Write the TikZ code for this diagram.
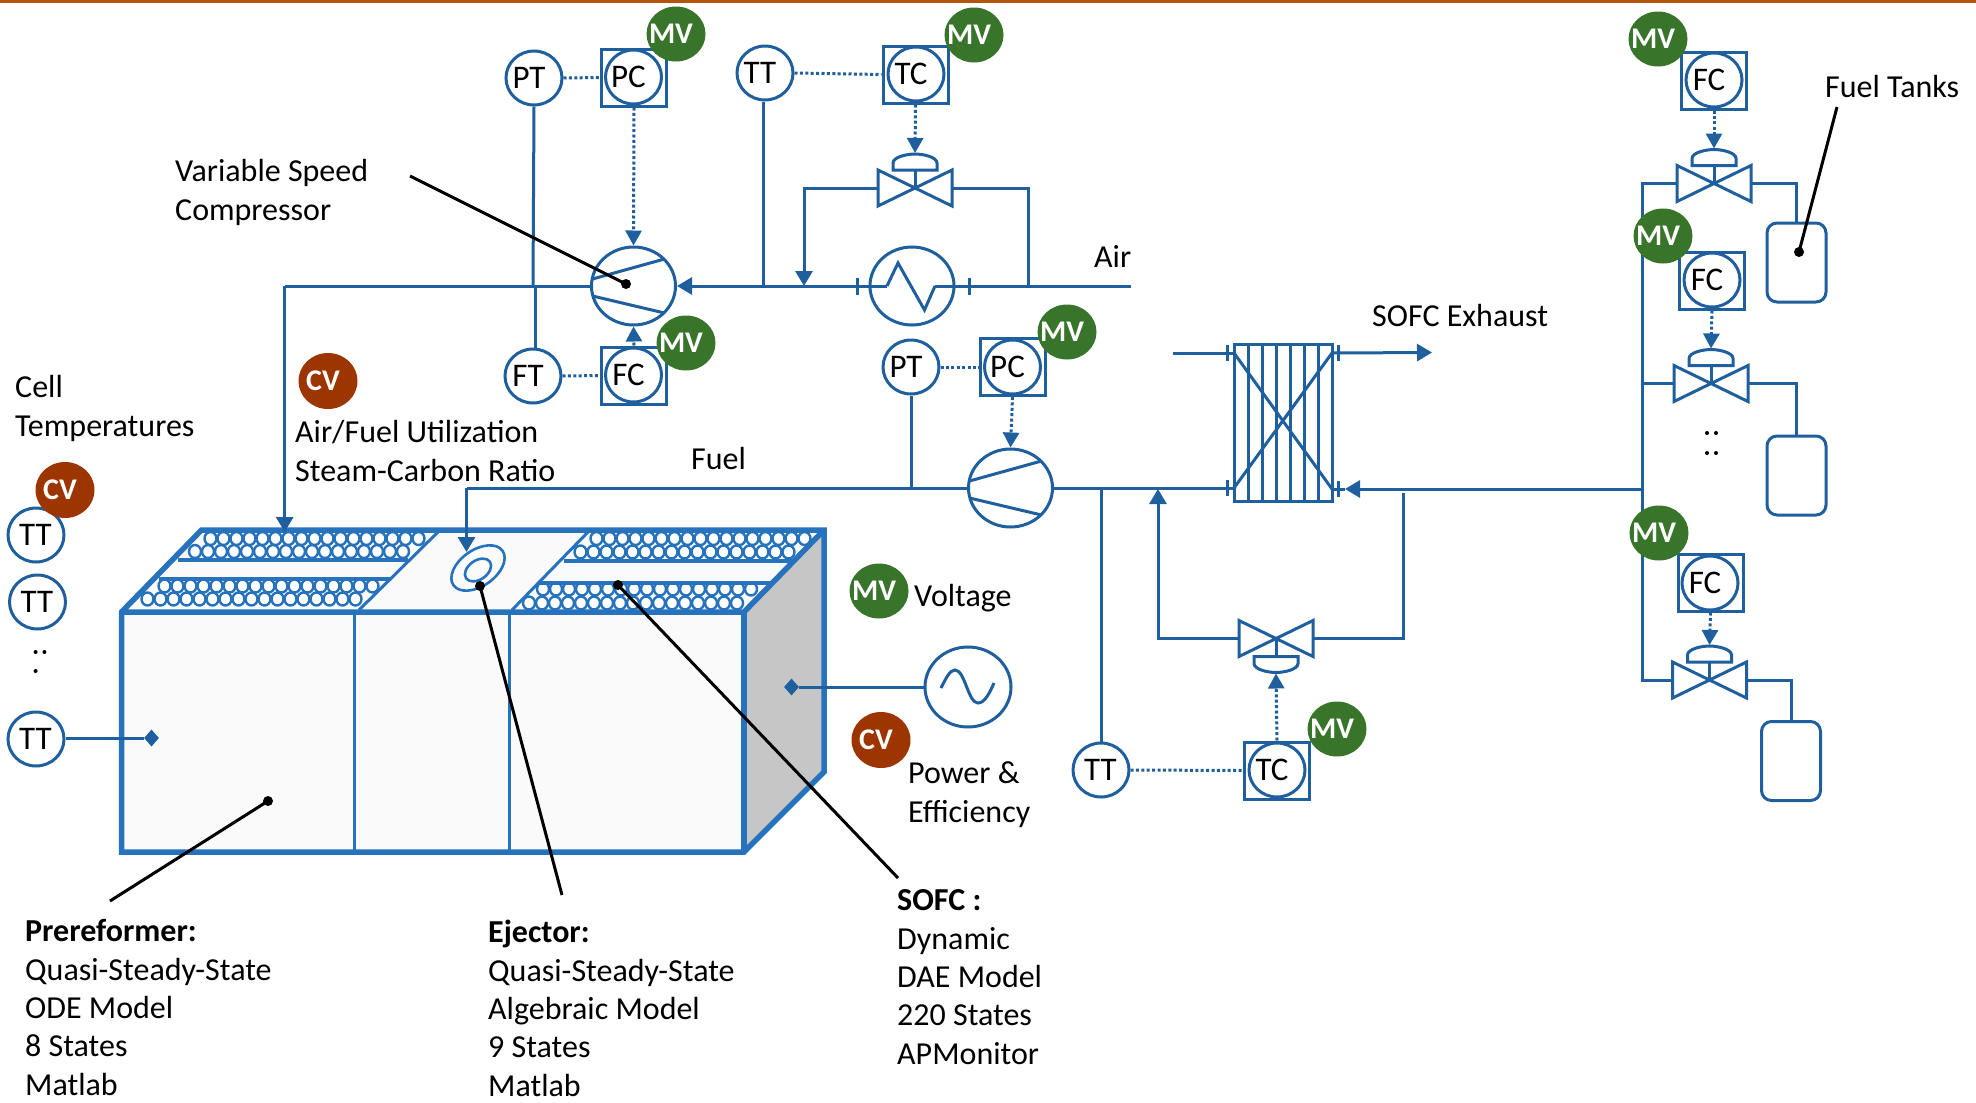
\documentclass[tikz,border=0pt]{standalone}
\usepackage{fontspec}
\setmainfont{Carlito}
\usetikzlibrary{arrows.meta,shapes.geometric,calc}
\definecolor{pipe}{HTML}{1F5F9E}
\definecolor{cellblue}{HTML}{2672BD}
\definecolor{mvgreen}{HTML}{38742A}
\definecolor{cvbrown}{HTML}{9C3500}
\definecolor{topbar}{HTML}{B5530F}
\newcommand{\lbl}[1]{\makebox[0pt]{#1\kern 10pt}}
\newcommand{\lblc}[1]{\makebox[0pt]{#1\kern 1pt}}
\tikzset{
 proc/.style={draw=pipe,line width=3pt},
 flow/.style={proc,-{Triangle[width=17pt,length=15pt]}},
 sig/.style={draw=pipe,line width=3pt,dash pattern=on 3pt off 2.4pt},
 sigflow/.style={sig,-{Triangle[width=16pt,length=15pt]}},
 inst/.style={ellipse,draw=pipe,fill=white,line width=3pt,minimum width=56pt,minimum height=54pt,inner sep=0pt,font=\fontsize{33}{38}\selectfont},
 ctrlbox/.style={rectangle,draw=pipe,fill=white,line width=3pt,minimum width=65pt,minimum height=57pt,inner sep=0pt},
 mvtag/.style={ellipse,fill=mvgreen,text=white,minimum width=59pt,minimum height=55pt,inner sep=0pt,font=\fontsize{30}{35}\selectfont\bfseries},
 cvtag/.style={ellipse,fill=cvbrown,text=white,minimum width=59pt,minimum height=56pt,inner sep=0pt,font=\fontsize{30}{35}\selectfont\bfseries},
 machine/.style={ellipse,draw=pipe,fill=white,line width=3pt,minimum width=84pt,minimum height=78pt,inner sep=0pt},
 tankbox/.style={rectangle,rounded corners=10pt,draw=pipe,fill=white,line width=3pt,minimum width=59pt,minimum height=79pt},
 txt/.style={anchor=base west,inner sep=0pt,align=left,font=\fontsize{32}{38.3}\selectfont},
 blackdot/.style={circle,fill=black,minimum size=10pt,inner sep=0pt},
 leader/.style={draw=black,line width=3pt},
 cellline/.style={draw=cellblue,line width=5.5pt,line join=miter},
 cellthin/.style={draw=cellblue,line width=3pt},
 tube/.style={draw=cellblue,fill=white,line width=2.4pt},
 tagdot/.style={circle,fill=black,minimum size=4pt,inner sep=0pt},
 diam/.style={diamond,fill=pipe,minimum width=15pt,minimum height=17pt,inner sep=0pt},
 valvesym/.pic={
  \draw[proc,line join=miter,fill=white] (-37,-18) -- (-37,18) -- (37,-18) -- (37,18) -- cycle;
  \draw[proc] (0,0) -- (0,-18);
  \draw[proc,fill=white] (-22,-18) -- (22,-18) -- (22,-25) .. controls (22,-31) and (8,-34) .. (0,-34) .. controls (-8,-34) and (-22,-31) .. (-22,-25) -- cycle;
  \coordinate (-l) at (-37,0);
  \coordinate (-r) at (37,0);
  \coordinate (-act) at (0,-35);
 }
}
\newcommand{\tuberow}[2]{\foreach \k in {0,...,16}{\draw[tube] ({#1+13*\k},#2) ellipse [x radius=6pt,y radius=6.5pt];}}
\begin{document}
\begin{tikzpicture}[x=1pt,y=-1pt]
\useasboundingbox (0,0) rectangle (1976,1103);
\fill[white] (0,0) rectangle (1976,1103);
\fill[topbar] (0,0) rectangle (1976,3);

% ---- SOFC stack box
\fill[gray!45!white] (744,612) -- (824,530) -- (824,772) -- (744,852) -- cycle;
\fill[white!98!black] (121.5,612) -- (201.5,530) -- (824,530) -- (744,612) -- cycle;
\fill[white!98!black] (121.5,612) rectangle (744,852);
\tuberow{210.5}{538.5}
\tuberow{195}{551.5}
\tuberow{164.5}{586}
\tuberow{147.5}{599}
\tuberow{596.5}{538.5}
\tuberow{580.5}{552}
\tuberow{543}{589}
\tuberow{529}{603}
\draw[cellthin,line width=4pt] (178,560) -- (407.5,560);
\draw[cellthin,line width=4pt] (159,579) -- (390,579);
\draw[cellthin,line width=4pt] (564,561) -- (793,561);
\draw[cellthin,line width=4pt] (538,583) -- (771,583);
\draw[cellthin] (359,610) -- (439,531);
\draw[cellthin] (512,610) -- (589,531);
\draw[cellthin] (354,612) -- (354,852);
\draw[cellthin] (509,612) -- (509,855);
\draw[cellline] (121.5,852) -- (121.5,612) -- (201.5,530) -- (824,530) -- (824,772) -- (744,852) -- cycle;
\draw[cellline] (121.5,612) -- (744,612) -- (824,530);
\draw[cellline] (744,612) -- (744,852);
\node[ellipse,draw=cellblue,line width=2.6pt,fill=white!98!black,minimum width=60pt,minimum height=36pt,inner sep=0pt,rotate=35] (ejout) at (478,568) {};
\node[ellipse,draw=cellblue,line width=2.6pt,minimum width=29pt,minimum height=19pt,inner sep=0pt,rotate=35] (ejin) at (478,570) {};

% ---- instruments
\node[inst] (pt1) at (534,78) {\lbl{PT}};
\node[ctrlbox] (pc1box) at (634,77.5) {};
\node[inst] (pc1) at (633.5,77) {\lbl{PC}};
\node[inst] (tt1) at (765,73) {\lbl{TT}};
\node[ctrlbox] (tc1box) at (915.5,74.5) {};
\node[inst] (tc1) at (916,74) {\lbl{TC}};
\node[inst] (ft1) at (533,376) {\lbl{FT}};
\node[ctrlbox] (fc1box) at (634,375.5) {};
\node[inst] (fc1) at (633.5,375) {\lbl{FC}};
\node[inst] (pt2) at (911,367) {\lbl{PT}};
\node[ctrlbox] (pc2box) at (1012.5,367) {};
\node[inst] (pc2) at (1012.5,367) {\lbl{PC}};
\node[inst] (tt3) at (1101,770) {\lblc{TT}};
\node[ctrlbox] (tc2box) at (1277,770.5) {};
\node[inst] (tc2) at (1277,770) {\lbl{TC}};
\node[ctrlbox] (fc2box) at (1714,80.5) {};
\node[inst] (fc2) at (1714,80) {\lbl{FC}};
\node[ctrlbox] (fc3box) at (1712,280.5) {};
\node[inst] (fc3) at (1712,280) {\lbl{FC}};
\node[ctrlbox] (fc4box) at (1710.5,582.5) {};
\node[inst] (fc4) at (1710,583) {\lbl{FC}};
\node[inst] (ttc1) at (36,535) {\lblc{TT}};
\node[inst] (ttc2) at (37.5,602) {\lblc{TT}};
\node[inst] (ttc3) at (36,739) {\lblc{TT}};

% ---- machines
\node[machine] (comp1) at (633.5,286) {};
\node[machine] (hx1) at (912,286) {};
\node[machine] (comp2) at (1010.5,488) {};
\node[machine,minimum width=86pt,minimum height=80pt] (ac) at (968,687) {};
\node[rectangle,draw=pipe,line width=3pt,minimum width=98pt,minimum height=157pt,inner sep=0pt] (hx2) at (1283,422.5) {};
\node[tankbox] (tank1) at (1796.5,262.5) {};
\node[tankbox] (tank2) at (1796.5,475.5) {};
\node[tankbox] (tank3) at (1791,761) {};

% ---- valves
\pic (v1) at (915,188) {valvesym};
\pic (v2) [yscale=-1] at (1276,638.5) {valvesym};
\pic (v3) at (1714,183.5) {valvesym};
\pic (v4) at (1711,383.5) {valvesym};
\pic (v5) at (1709.5,680) {valvesym};

% ---- machine internals
\foreach \c in {comp1,comp2}{
 \draw[proc] ($(\c)+(-41,-7)$) -- ($(\c)+(31,-27)$);
 \draw[proc] ($(\c)+(-41,10)$) -- ($(\c)+(31,27)$);
}
\draw[proc,line join=miter] (887,286) -- (898,263) -- (924.5,310) -- (935,286);
\draw[proc] (941,688) .. controls (946,678) and (950,670) .. (955,670) .. controls (965,670) and (968,703) .. (978,703) .. controls (985,703) and (990,692) .. (994,683);

% ---- air line
\coordinate (airend) at (1131,286);
\coordinate (tee1) at (1028,286);
\coordinate (tee2) at (804,286);
\coordinate (bendc) at (284.7,286);
\coordinate (stacktop) at (284.7,532);
\coordinate (hxA) at (887,286);
\coordinate (hxB) at (935,286);
\draw[flow] (hxA) -- (comp1.east);
\draw[proc] (airend) -- (hxB);
\draw[proc] (857,277.5) -- (857,295);
\draw[proc] (969,277.5) -- (969,295);
\draw[proc] (comp1.west) -- (bendc);
\draw[flow] (bendc) -- (stacktop);
\draw[proc] (tee1) -- (tee1 |- v1-r) -- (v1-r);
\draw[flow] (v1-l) -- (tee2 |- v1-l) -- (tee2);
\coordinate (junc1) at (533,286);
\coordinate (junc2) at (535,286);
\draw[proc] (pt1.south) -- (junc1);
\draw[proc] (junc2) -- (ft1.north -| junc2);
\draw[proc] (tt1.south -| 763,0) -- (763,285);

% ---- signals
\draw[sig] (pt1.east) -- (pc1box.west);
\draw[sig] (tt1.east) -- (tc1box.west);
\draw[sig] (ft1.east) -- (fc1box.west);
\draw[sig] (pt2.east) -- (pc2box.west);
\draw[sig] (tt3.east) -- (tc2box.west);
\draw[sigflow] (pc1box.south) -- (comp1.north);
\draw[sigflow] (tc1box.south) -- (v1-act);
\draw[sigflow] (fc1box.north) -- (comp1.south);
\draw[sigflow] (pc2box.south) -- (comp2.north);
\draw[sigflow] (tc2box.north) -- (v2-act);
\draw[sigflow] (fc2box.south) -- (v3-act);
\draw[sigflow] (fc3box.south) -- (v4-act);
\draw[sigflow] (fc4box.south) -- (v5-act);

% ---- fuel line
\coordinate (fbend) at (466.5,488);
\coordinate (ejtip) at (466.5,552);
\coordinate (hxbl) at (1234,488);
\coordinate (hxtl) at (1234,353);
\coordinate (hxbr) at (1332,489);
\coordinate (hxtr) at (1332,353);
\coordinate (exstart) at (1173,353);
\coordinate (extip) at (1432,352.5);
\coordinate (fueltip) at (1345,489);
\coordinate (hdr1) at (1642,183.5);
\coordinate (hdr2) at (1642,489);
\coordinate (hdr3) at (1642,680);
\coordinate (byin) at (1158,489);
\coordinate (byout) at (1403,493);
\draw[proc] (comp2.west) -- (fbend);
\draw[flow] (fbend) -- (ejtip);
\draw[proc] (pt2.south) -- (pt2.south |- comp2.west);
\draw[proc] (comp2.east) -- (hxbl);
\draw[proc] (tt3.north) -- (tt3.north |- hxbl);
\draw[proc] (exstart) -- (hxtl);
\draw[flow] (hxtr) -- (extip);
\draw[flow] (hdr2) -- (fueltip);
\draw[proc] (fueltip) -- (hxbr);
\draw[proc] (1227,480) -- (1227,496);
\draw[proc] (1227,345) -- (1227,361);
\draw[proc] (1338,345) -- (1338,361);
\draw[proc] (1338,481) -- (1338,497);
\draw[flow] (v2-l) -- (byin |- v2-l) -- (byin);
\draw[proc] (v2-r) -- (byout |- v2-r) -- (byout);
\foreach \vx in {1248,1262,1276,1290,1304,1318}{\draw[proc] (\vx,344) -- (\vx,501);}
\draw[proc] (hxtl) -- (hxbr);
\draw[proc] (hxbl) -- (hxtr);
% ---- fuel header and tanks
\draw[proc] (v3-l) -- (hdr1) -- (hdr3) -- (v5-l);
\draw[proc] (v4-l) -- (hdr1 |- v4-l);
\draw[proc] (v3-r) -| (tank1.north);
\draw[proc] (v4-r) -| (tank2.north);
\draw[proc] (v5-r) -| (tank3.north);

% ---- electrical / temperature
\node[diam] (dl) at (151.5,738) {};
\node[diam] (dr) at (791.5,687) {};
\draw[proc] (ttc3.east |- dl) -- (dl.west);
\draw[proc] (dr.east) -- (ac.west);

% ---- tags
\node[mvtag] (mv1) at (676,34) {\lbl{MV}};
\node[mvtag] (mv2) at (974,35) {\lbl{MV}};
\node[mvtag] (mv3) at (686,343) {\lbl{MV}};
\node[mvtag] (mv4) at (1067,332) {\lbl{MV}};
\node[mvtag] (mv5) at (1337,729) {\lbl{MV}};
\node[mvtag] (mv6) at (1658,39) {\lbl{MV}};
\node[mvtag] (mv7) at (1663,236) {\lbl{MV}};
\node[mvtag] (mv8) at (1659,533) {\lbl{MV}};
\node[mvtag] (mv9) at (879,591) {\lbl{MV}};
\node[cvtag] (cv1) at (65,490) {\lbl{CV}};
\node[cvtag] (cv2) at (328,381) {\lbl{CV}};
\node[cvtag] (cv3) at (881,740) {\lbl{CV}};

% ---- leaders
\node[blackdot] (dcomp) at (626,284) {};
\node[blackdot] (dtank) at (1799,252) {};
\node[blackdot] (dej) at (480,586) {};
\node[blackdot] (dsofc) at (618,585) {};
\node[blackdot] (dpre) at (268,801) {};
\coordinate (lcomp) at (410,176);
\coordinate (ltank) at (1837,107);
\coordinate (lej) at (562,895);
\coordinate (lsofc) at (898,878);
\coordinate (lpre) at (110,901);
\draw[leader] (lcomp) -- (dcomp.center);
\draw[leader] (ltank) -- (dtank.center);
\draw[leader] (lej) -- (dej.center);
\draw[leader] (lsofc) -- (dsofc.center);
\draw[leader] (lpre) -- (dpre.center);

% ---- continuation dots
\node[tagdot] (e1) at (35.6,652) {};
\node[tagdot] (e2) at (44.4,652) {};
\node[tagdot] (e3) at (35.6,671) {};
\node[tagdot] (e4) at (1707,433) {};
\node[tagdot] (e5) at (1716,433) {};
\node[tagdot] (e6) at (1707,453) {};
\node[tagdot] (e7) at (1716,453) {};

% ---- texts
\node[txt] (tvsc) at (175,220) {Variable Speed\\Compressor};
\node[txt] (tcell) at (15,436) {Cell\\Temperatures};
\node[txt] (tafu) at (295,481) {Air/Fuel Utilization\\Steam-Carbon Ratio};
\node[txt] (tfuel) at (691,469) {Fuel};
\node[txt] (tair) at (1094,267) {Air};
\node[txt] (texh) at (1372,326) {SOFC Exhaust};
\node[txt] (ttanks) at (1825,97) {Fuel Tanks};
\node[txt] (tvolt) at (914,606) {Voltage};
\node[txt] (tpow) at (908,822) {Power \&\\Efficiency};
\node[txt] (tpre) at (25,1095) {\textbf{Prereformer:}\\Quasi-Steady-State\\ODE Model\\8 States\\Matlab};
\node[txt] (tej) at (488,1096) {\textbf{Ejector:}\\Quasi-Steady-State\\Algebraic Model\\9 States\\Matlab};
\node[txt] (tsofc) at (897,1064) {\textbf{SOFC :}\\Dynamic\\DAE Model\\220 States\\APMonitor};
\end{tikzpicture}
\end{document}
